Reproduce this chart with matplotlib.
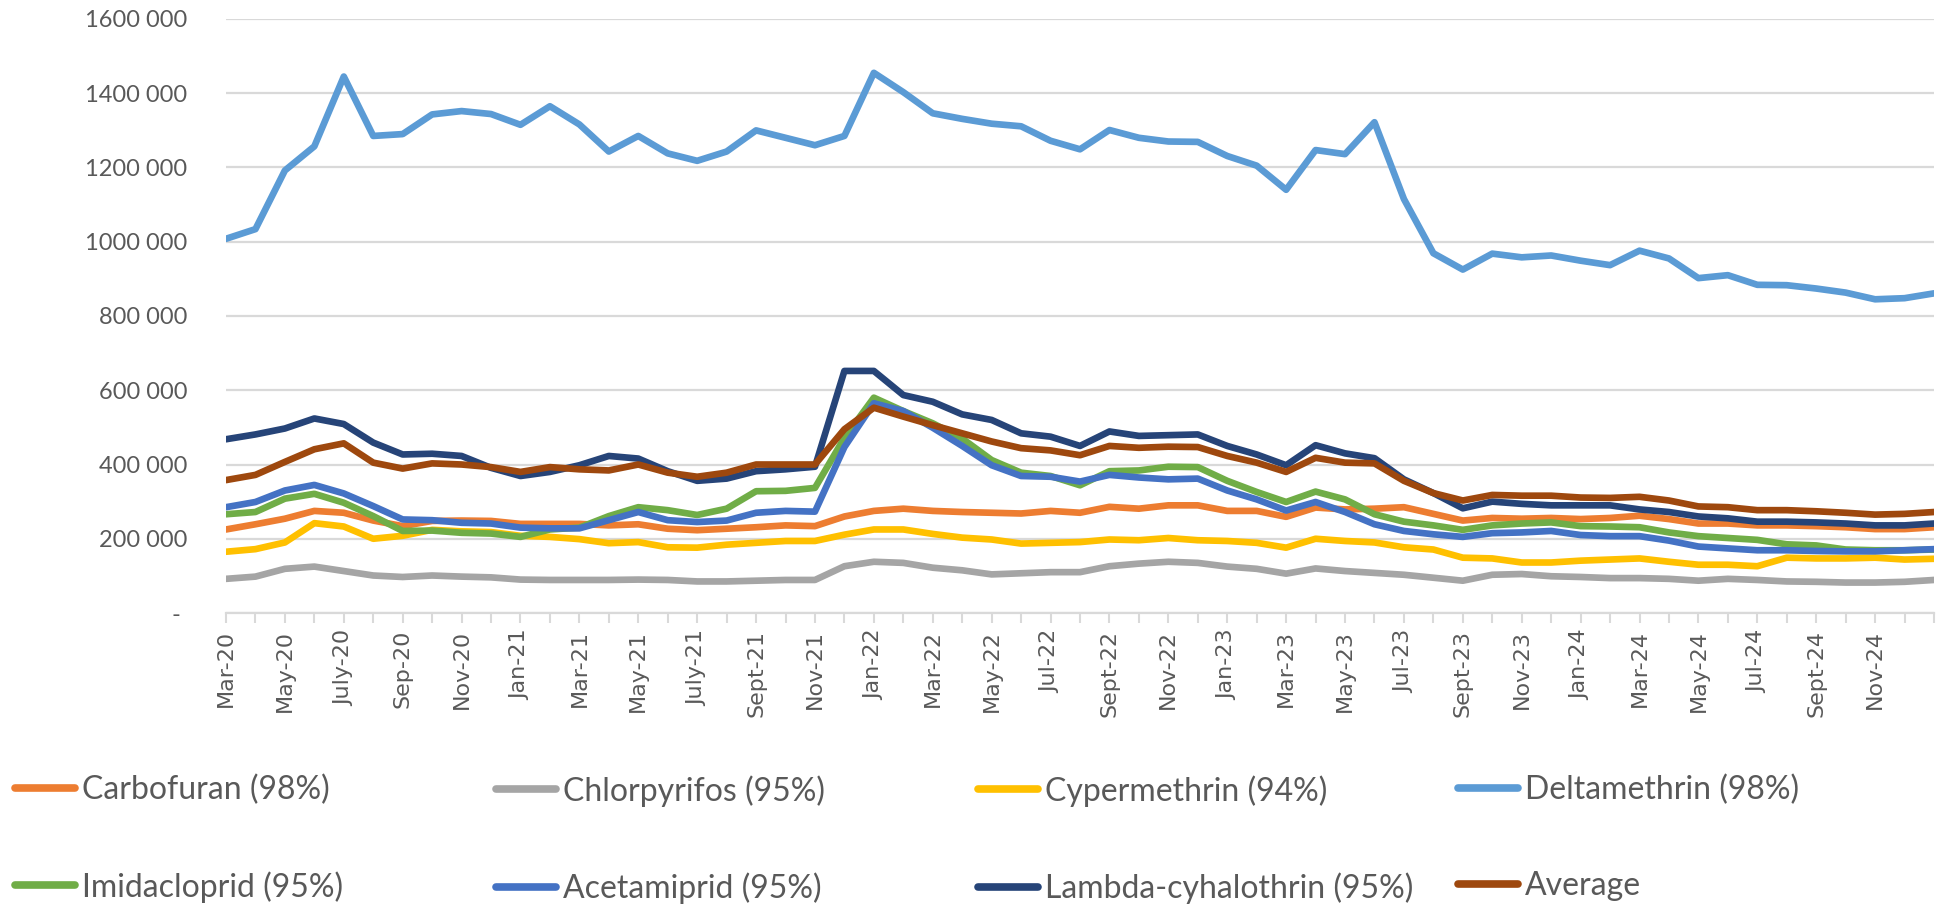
import numpy as np
import matplotlib.pyplot as plt

# monthly categories (last one has no label on the chart)
months = ["Mar-20", "Apr-20", "May-20", "Jun-20", "July-20", "Aug-20", "Sep-20", "Oct-20",
          "Nov-20", "Dec-20", "Jan-21", "Feb-21", "Mar-21", "Apr-21", "May-21", "Jun-21",
          "July-21", "Aug-21", "Sept-21", "Oct-21", "Nov-21", "Dec-21", "Jan-22", "Feb-22",
          "Mar-22", "Apr-22", "May-22", "Jun-22", "Jul-22", "Aug-22", "Sept-22", "Oct-22",
          "Nov-22", "Dec-22", "Jan-23", "Feb-23", "Mar-23", "Apr-23", "May-23", "Jun-23",
          "Jul-23", "Aug-23", "Sept-23", "Oct-23", "Nov-23", "Dec-23", "Jan-24", "Feb-24",
          "Mar-24", "Apr-24", "May-24", "Jun-24", "Jul-24", "Aug-24", "Sept-24", "Oct-24",
          "Nov-24", "Dec-24", ""]

# values in thousands
carbofuran = [225, 239, 254, 275, 270, 249, 234, 248, 249, 248, 240, 240, 240, 236, 239, 227, 223, 227, 231, 236,
              234, 260, 275, 281, 275, 272, 270, 268, 275, 270, 286, 281, 290, 290, 275, 275, 259, 284, 279, 281,
              285, 267, 249, 256, 254, 256, 253, 256, 262, 253, 241, 241, 236, 236, 234, 231, 226, 226, 231]
chlorpyrifos = [92, 98, 119, 125, 113, 101, 97, 101, 98, 96, 90, 89, 89, 89, 90, 89, 85, 85, 87, 89,
                89, 126, 138, 135, 122, 115, 104, 107, 110, 110, 126, 133, 138, 135, 125, 119, 106, 120, 113, 108,
                103, 95, 87, 103, 105, 99, 97, 94, 94, 92, 87, 92, 89, 85, 84, 82, 82, 84, 89]
cypermethrin = [165, 172, 190, 242, 233, 200, 208, 224, 220, 218, 208, 205, 199, 188, 191, 177, 176, 184, 189, 194,
                194, 211, 225, 225, 213, 203, 198, 187, 189, 191, 198, 196, 202, 196, 194, 189, 176, 200, 194, 190,
                177, 171, 149, 147, 136, 136, 141, 144, 147, 138, 130, 130, 126, 149, 147, 147, 149, 144, 146]
deltamethrin = [1008, 1034, 1192, 1257, 1445, 1285, 1290, 1343, 1352, 1344, 1315, 1365, 1316, 1243, 1285, 1238,
                1218, 1243, 1300, 1280, 1260, 1285, 1455, 1403, 1346, 1331, 1318, 1311, 1272, 1249, 1301, 1280,
                1270, 1269, 1231, 1205, 1140, 1247, 1236, 1322, 1115, 969, 925, 968, 958, 963, 949, 937, 976,
                955, 902, 910, 884, 883, 874, 863, 845, 848, 861]
imidacloprid = [266, 272, 308, 321, 297, 261, 221, 222, 216, 214, 205, 225, 230, 261, 285, 277, 264, 281, 328, 329,
                337, 472, 580, 544, 511, 470, 412, 378, 369, 344, 382, 384, 394, 393, 356, 326, 299, 327, 306, 266,
                246, 236, 224, 236, 241, 244, 234, 233, 231, 217, 207, 202, 197, 185, 182, 171, 169, 169, 171]
acetamiprid = [285, 299, 330, 345, 322, 288, 252, 250, 243, 241, 230, 228, 228, 250, 272, 250, 245, 249, 270, 275,
               273, 447, 565, 544, 499, 450, 398, 369, 367, 354, 372, 365, 360, 362, 330, 306, 276, 299, 272, 239,
               221, 212, 205, 215, 217, 221, 210, 207, 207, 195, 179, 174, 169, 169, 167, 166, 166, 169, 172]
lambda_cy = [468, 481, 497, 524, 509, 459, 427, 429, 423, 391, 369, 380, 398, 423, 416, 382, 356, 362, 382, 387,
             394, 652, 652, 587, 569, 535, 520, 484, 475, 450, 489, 477, 479, 481, 450, 427, 398, 452, 430, 417,
             360, 323, 282, 300, 294, 290, 290, 290, 279, 272, 260, 255, 246, 246, 244, 241, 236, 236, 241]
average = [358, 372, 407, 441, 457, 405, 389, 403, 400, 393, 380, 393, 387, 384, 400, 378, 367, 378, 400, 400,
           400, 495, 553, 529, 506, 484, 462, 444, 438, 425, 450, 445, 448, 447, 423, 405, 380, 418, 405, 403,
           356, 323, 303, 318, 316, 316, 311, 310, 313, 303, 287, 285, 277, 277, 274, 270, 265, 267, 272]

series = [
    ("Carbofuran (98%)", carbofuran, "#ED7D31"),
    ("Chlorpyrifos (95%)", chlorpyrifos, "#A5A5A5"),
    ("Cypermethrin (94%)", cypermethrin, "#FFC000"),
    ("Deltamethrin (98%)", deltamethrin, "#5B9BD5"),
    ("Imidacloprid (95%)", imidacloprid, "#70AD47"),
    ("Acetamiprid (95%)", acetamiprid, "#4472C4"),
    ("Lambda-cyhalothrin (95%)", lambda_cy, "#264478"),
    ("Average", average, "#9E480E"),
]

TEXT = "#595959"
GRID = "#D9D9D9"

fig = plt.figure(figsize=(19.5, 9.06), dpi=100)
ax = fig.add_axes([226 / 1950, 1 - 613 / 906, (1934 - 226) / 1950, (613 - 19) / 906])

x = np.arange(len(months))
lines = []
for name, vals, col in series:
    ln, = ax.plot(x, np.array(vals) * 1000, color=col, lw=4.8, label=name,
                  solid_joinstyle="round", solid_capstyle="round")
    lines.append(ln)

ax.set_xlim(0, len(months) - 1)
ax.set_ylim(0, 1600000)
yt = np.arange(0, 1600001, 200000)
ax.set_yticks(yt)
ax.set_yticklabels(["- " if v == 0 else f"{v // 1000} {v % 1000:03d}" for v in yt],
                   fontfamily="Lato", fontsize=17, color=TEXT)
ax.set_xticks(x)
ax.set_xticklabels([m if i % 2 == 0 else "" for i, m in enumerate(months)],
                   rotation=90, fontsize=16, color=TEXT)

ax.grid(axis="y", color=GRID, lw=1.6)
ax.set_axisbelow(True)
for s in ["top", "right", "left"]:
    ax.spines[s].set_visible(False)
ax.spines["bottom"].set_color(GRID)
ax.spines["bottom"].set_linewidth(1.6)
ax.tick_params(axis="y", length=0, pad=28)
ax.tick_params(axis="x", length=7, width=1.5, color=GRID, pad=5)

# Excel-like legend: four evenly spaced columns, two rows
cols = [(0, 4), (1, 5), (2, 6), (3, 7)]
xs = [15, 496, 978, 1458]
for (a, b), xpos in zip(cols, xs):
    leg = fig.legend(handles=[lines[a], lines[b]], loc="upper left",
                     bbox_to_anchor=(xpos / 1950, 1 - 775 / 906), frameon=False,
                     borderpad=0, borderaxespad=0, handlelength=1.88, handletextpad=0.22,
                     labelspacing=2.05, prop={"family": "Lato", "size": 23}, labelcolor=TEXT)
    for h in leg.get_lines():
        h.set_linewidth(5.5)

fig.savefig("out.png", dpi=100, facecolor="white")
